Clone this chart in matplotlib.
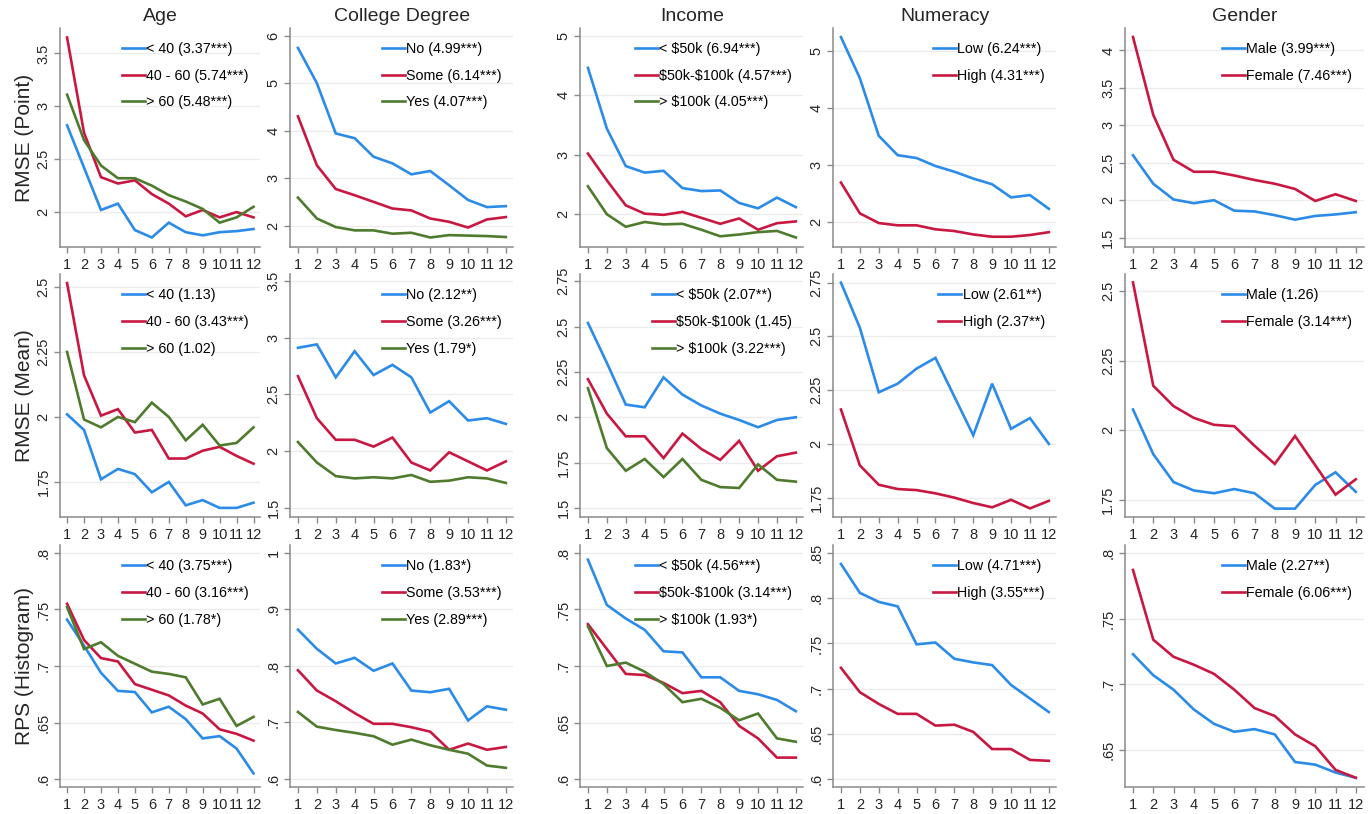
import numpy as np
import matplotlib
matplotlib.use("Agg")
import matplotlib.pyplot as plt
from matplotlib.ticker import FuncFormatter

plt.rcParams["font.family"] = ["Liberation Sans", "DejaVu Sans"]

horizons = list(range(1, 13))

col_titles = ["Age", "College Degree", "Income", "Numeracy", "Gender"]
row_labels = ["RMSE (Point)", "RMSE (Mean)", "RPS (Histogram)"]

# ---- RMSE (Point) ----
age_point = [
    [2.82, 2.42, 2.02, 2.08, 1.83, 1.76, 1.90, 1.81, 1.78, 1.81, 1.82, 1.84],
    [3.65, 2.75, 2.33, 2.27, 2.30, 2.17, 2.08, 1.96, 2.02, 1.95, 2.00, 1.95],
    [3.11, 2.68, 2.44, 2.32, 2.32, 2.25, 2.16, 2.10, 2.03, 1.90, 1.95, 2.05],
]
age_point_labels = ["< 40 (3.37***)", "40 - 60 (5.74***)", "> 60 (5.48***)"]

college_point = [
    [5.74, 5.00, 3.94, 3.84, 3.45, 3.31, 3.08, 3.15, 2.85, 2.54, 2.39, 2.41],
    [4.30, 3.27, 2.77, 2.64, 2.50, 2.36, 2.32, 2.15, 2.08, 1.96, 2.13, 2.18],
    [2.59, 2.15, 1.97, 1.90, 1.90, 1.83, 1.85, 1.75, 1.80, 1.79, 1.78, 1.76],
]
college_point_labels = ["No (4.99***)", "Some (6.14***)", "Yes (4.07***)"]

income_point = [
    [4.46, 3.44, 2.81, 2.70, 2.73, 2.44, 2.39, 2.40, 2.19, 2.10, 2.28, 2.12],
    [3.02, 2.57, 2.15, 2.01, 1.99, 2.04, 1.94, 1.84, 1.93, 1.74, 1.85, 1.88],
    [2.47, 2.00, 1.79, 1.87, 1.83, 1.84, 1.74, 1.63, 1.66, 1.70, 1.72, 1.61],
]
income_point_labels = ["< $50k (6.94***)", "$50k-$100k (4.57***)", "> $100k (4.05***)"]

numeracy_point = [
    [5.24, 4.52, 3.51, 3.17, 3.12, 2.98, 2.88, 2.76, 2.66, 2.43, 2.47, 2.23],
    [2.69, 2.15, 1.98, 1.94, 1.94, 1.87, 1.84, 1.78, 1.74, 1.74, 1.77, 1.82],
]
numeracy_point_labels = ["Low (6.24***)", "High (4.31***)"]

gender_point = [
    [2.60, 2.22, 2.01, 1.96, 2.00, 1.86, 1.85, 1.80, 1.74, 1.79, 1.81, 1.84],
    [4.18, 3.14, 2.54, 2.38, 2.38, 2.33, 2.27, 2.22, 2.15, 1.99, 2.08, 1.99],
]
gender_point_labels = ["Male (3.99***)", "Female (7.46***)"]

# ---- RMSE (Mean) ----
age_mean = [
    [2.01, 1.95, 1.76, 1.80, 1.78, 1.71, 1.75, 1.66, 1.68, 1.65, 1.65, 1.67],
    [2.515, 2.16, 2.005, 2.03, 1.94, 1.95, 1.84, 1.84, 1.87, 1.885, 1.85, 1.82],
    [2.25, 1.99, 1.96, 2.00, 1.98, 2.055, 2.00, 1.91, 1.97, 1.89, 1.90, 1.96],
]
age_mean_labels = ["< 40 (1.13)", "40 - 60 (3.43***)", "> 60 (1.02)"]

college_mean = [
    [2.91, 2.94, 2.65, 2.88, 2.67, 2.76, 2.65, 2.34, 2.44, 2.27, 2.29, 2.24],
    [2.66, 2.29, 2.10, 2.10, 2.04, 2.12, 1.90, 1.83, 1.99, 1.91, 1.83, 1.91],
    [2.08, 1.90, 1.78, 1.76, 1.77, 1.76, 1.79, 1.73, 1.74, 1.77, 1.76, 1.72],
]
college_mean_labels = ["No (2.12**)", "Some (3.26***)", "Yes (1.79*)"]

income_mean = [
    [2.52, 2.30, 2.07, 2.055, 2.22, 2.125, 2.065, 2.02, 1.985, 1.945, 1.985, 2.00],
    [2.21, 2.02, 1.895, 1.895, 1.775, 1.91, 1.825, 1.765, 1.87, 1.705, 1.785, 1.805],
    [2.16, 1.83, 1.705, 1.77, 1.67, 1.77, 1.655, 1.615, 1.61, 1.74, 1.655, 1.645],
]
income_mean_labels = ["< $50k (2.07**)", "$50k-$100k (1.45)", "> $100k (3.22***)"]

numeracy_mean = [
    [2.75, 2.54, 2.24, 2.28, 2.35, 2.40, 2.22, 2.04, 2.28, 2.07, 2.12, 2.00],
    [2.16, 1.90, 1.81, 1.79, 1.785, 1.77, 1.75, 1.725, 1.705, 1.74, 1.70, 1.735],
]
numeracy_mean_labels = ["Low (2.61**)", "High (2.37**)"]

gender_mean = [
    [2.075, 1.915, 1.815, 1.785, 1.775, 1.79, 1.775, 1.72, 1.72, 1.805, 1.85, 1.78],
    [2.53, 2.16, 2.087, 2.045, 2.02, 2.015, 1.945, 1.88, 1.98, 1.875, 1.77, 1.825],
]
gender_mean_labels = ["Male (1.26)", "Female (3.14***)"]

# ---- RPS (Histogram) ----
age_rps = [
    [.741, .718, .694, .678, .677, .659, .664, .653, .636, .638, .627, .605],
    [.755, .723, .707, .704, .684, .679, .674, .665, .658, .644, .640, .634],
    [.752, .715, .721, .709, .702, .695, .693, .690, .666, .671, .647, .655],
]
age_rps_labels = ["< 40 (3.75***)", "40 - 60 (3.16***)", "> 60 (1.78*)"]

college_rps = [
    [.864, .830, .804, .814, .791, .804, .756, .753, .759, .703, .728, .722],
    [.792, .756, .737, .716, .697, .697, .691, .683, .651, .662, .651, .656],
    [.718, .692, .686, .681, .675, .660, .669, .659, .651, .644, .623, .619],
]
college_rps_labels = ["No (1.83*)", "Some (3.53***)", "Yes (2.89***)"]

income_rps = [
    [.794, .754, .742, .732, .713, .712, .690, .690, .678, .675, .670, .660],
    [.737, .715, .693, .692, .685, .676, .678, .668, .647, .636, .619, .619],
    [.735, .700, .703, .695, .684, .668, .671, .663, .652, .658, .636, .633],
]
income_rps_labels = ["< $50k (4.56***)", "$50k-$100k (3.14***)", "> $100k (1.93*)"]

numeracy_rps = [
    [.838, .806, .796, .791, .749, .751, .733, .729, .726, .704, .689, .674],
    [.723, .696, .683, .672, .672, .659, .660, .652, .633, .633, .621, .620],
]
numeracy_rps_labels = ["Low (4.71***)", "High (3.55***)"]

gender_rps = [
    [.723, .707, .696, .681, .670, .664, .666, .662, .641, .639, .633, .629],
    [.787, .734, .721, .715, .708, .696, .682, .676, .662, .653, .635, .629],
]
gender_rps_labels = ["Male (2.27**)", "Female (6.06***)"]

panels = [
    [(age_point, age_point_labels), (college_point, college_point_labels),
     (income_point, income_point_labels), (numeracy_point, numeracy_point_labels),
     (gender_point, gender_point_labels)],
    [(age_mean, age_mean_labels), (college_mean, college_mean_labels),
     (income_mean, income_mean_labels), (numeracy_mean, numeracy_mean_labels),
     (gender_mean, gender_mean_labels)],
    [(age_rps, age_rps_labels), (college_rps, college_rps_labels),
     (income_rps, income_rps_labels), (numeracy_rps, numeracy_rps_labels),
     (gender_rps, gender_rps_labels)],
]

# y ranges and tick steps per panel: (ymin, ymax, first tick, last tick, step)
yaxes = [
    [(1.67, 3.74, 2, 3.5, .5), (1.55, 6.16, 2, 6, 1), (1.45, 5.13, 2, 5, 1),
     (1.56, 5.40, 2, 5, 1), (1.375, 4.30, 1.5, 4, .5)],
    [(1.615, 2.55, 1.75, 2.5, .25), (1.42, 3.56, 1.5, 3.5, .5), (1.45, 2.79, 1.5, 2.75, .25),
     (1.66, 2.79, 1.75, 2.75, .25), (1.69, 2.56, 1.75, 2.5, .25)],
    [(.593, .807, .6, .8, .05), (.585, 1.014, .6, 1, .1), (.593, .807, .6, .8, .05),
     (.591, .859, .6, .85, .05), (.622, .806, .65, .8, .05)],
]

colors = ["#2b8be8", "#c81841", "#4f7b2e"]

W, H = 1370, 814
col_left = [60.3, 290.4, 580.4, 833.4, 1124.9]
col_width = [200, 223, 223, 223, 239]
row_span = [(28, 247), (274, 517), (545, 787)]


def stata_fmt(v, pos=None):
    s = f"{v:g}"
    if s.startswith("0."):
        s = s[1:]
    return s


fig = plt.figure(figsize=(W / 100, H / 100), dpi=100)
fig.patch.set_facecolor("white")

axis_gray = "#8a8a8a"

for r in range(3):
    top, bot = row_span[r]
    for c in range(5):
        ax = fig.add_axes([col_left[c] / W, 1 - bot / H, col_width[c] / W, (bot - top) / H])
        series, labels = panels[r][c]
        for k, vals in enumerate(series):
            # dollar signs would otherwise switch on mathtext
            ax.plot(horizons, vals, color=colors[k], lw=1.9,
                    label=labels[k].replace("$", r"\$"), solid_joinstyle="miter")

        ymin, ymax, t0, t1, step = yaxes[r][c]
        ax.set_xlim(0.6, 12.4)
        ax.set_ylim(ymin, ymax)
        ax.set_xticks(horizons)
        yt = np.round(np.arange(t0, t1 + step / 2, step), 3)
        ax.set_yticks(yt)
        ax.yaxis.set_major_formatter(FuncFormatter(stata_fmt))
        ax.grid(axis="y", color="#ececec", lw=1.0)
        ax.set_axisbelow(True)

        for s in ["top", "right"]:
            ax.spines[s].set_visible(False)
        for s in ["left", "bottom"]:
            ax.spines[s].set_color(axis_gray)
            ax.spines[s].set_linewidth(1.1)
        ax.tick_params(axis="both", colors=axis_gray, length=4, width=1.0,
                       labelcolor="#262626", labelsize=10.5)
        ax.tick_params(axis="x", pad=4)
        ax.tick_params(axis="y", pad=3)
        for lab in ax.get_yticklabels():
            lab.set_rotation(90)
            lab.set_va("center")

        ax.legend(loc="upper right", bbox_to_anchor=(1.0, 0.99), frameon=False,
                  fontsize=10.3, handlelength=1.6, handletextpad=0.1,
                  labelspacing=0.9, borderpad=0.3)

        if r == 0:
            ax.set_title(col_titles[c], fontsize=14, color="#262626", pad=5)
        if c == 0:
            ax.set_ylabel(row_labels[r], fontsize=15, color="#262626", labelpad=2)

fig.savefig("out.png", dpi=100, facecolor="white")
